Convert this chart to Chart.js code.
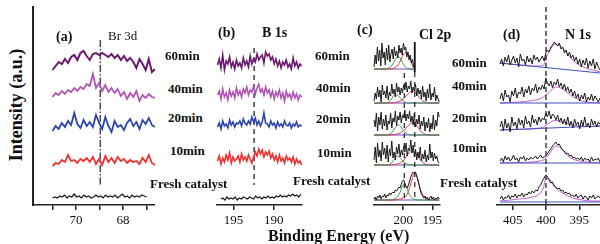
<!DOCTYPE html>
<html>
<head>
<meta charset="utf-8">
<script src="https://cdn.jsdelivr.net/npm/chart.js@4.4.1/dist/chart.umd.min.js"></script>
<style>
body{margin:0;background:#fff;width:600px;height:244px;overflow:hidden;position:relative;font-family:"Liberation Serif",serif;color:#111}
.pn{position:absolute;top:0}
.t{position:absolute;white-space:nowrap;font-weight:bold;font-size:13px;line-height:1;transform:translateY(-50%)}
</style>
</head>
<body>
<div class="pn" style="left:31px"><canvas id="pa" width="124" height="244"></canvas></div>
<div class="pn" style="left:215px"><canvas id="pb" width="102" height="244"></canvas></div>
<div class="pn" style="left:372px"><canvas id="pc" width="83" height="244"></canvas></div>
<div class="pn" style="left:495px"><canvas id="pd" width="120" height="244"></canvas></div>

<div class="t" style="left:16px;top:105px;font-size:18px;transform:translate(-50%,-50%) rotate(-90deg)">Intensity (a.u.)</div>
<div class="t" style="left:268px;top:236px;font-size:16px">Binding Energy (eV)</div>

<div class="t" style="left:56px;top:37px;font-size:14px">(a)</div>
<div class="t" style="left:108px;top:35px;font-weight:normal">Br 3d</div>
<div class="t" style="left:218px;top:33px;font-size:14px">(b)</div>
<div class="t" style="left:262px;top:33px;font-size:14px">B 1s</div>
<div class="t" style="left:357px;top:30px;font-size:14px">(c)</div>
<div class="t" style="left:419px;top:35px;font-size:14px">Cl 2p</div>
<div class="t" style="left:503px;top:35px;font-size:14px">(d)</div>
<div class="t" style="left:565px;top:35px;font-size:14px">N 1s</div>

<div class="t" style="left:165px;top:55px">60min</div>
<div class="t" style="left:168px;top:88px">40min</div>
<div class="t" style="left:168px;top:117px">20min</div>
<div class="t" style="left:170px;top:150px">10min</div>
<div class="t" style="left:150px;top:183px">Fresh catalyst</div>

<div class="t" style="left:315px;top:55px">60min</div>
<div class="t" style="left:316px;top:87px">40min</div>
<div class="t" style="left:316px;top:118px">20min</div>
<div class="t" style="left:317px;top:152px">10min</div>
<div class="t" style="left:293px;top:180px">Fresh catalyst</div>

<div class="t" style="left:452px;top:62px">60min</div>
<div class="t" style="left:452px;top:85px">40min</div>
<div class="t" style="left:452px;top:117px">20min</div>
<div class="t" style="left:452px;top:147px">10min</div>
<div class="t" style="left:440px;top:182px">Fresh catalyst</div>

<script>
// intensities are offset heights above each panel's x axis (a.u.)

// (a) Br 3d
var brRange = [71.0, 66.64];
var brFreshRange = [71.0, 67.0];
var br60 = [135,139,143,141,146,142,148,150,145,152,154,149,145,151,152,150,152,150,148,151,147,150,145,149,144,147,143,137,146,141,135,146,133,136];
var br40 = [108,112,110,114,111,115,113,117,114,118,116,121,119,131,117,122,114,120,113,117,112,116,109,113,106,112,108,114,104,110,107,111,108,107];
var br20 = [74,79,76,82,78,84,80,92,81,77,85,79,83,78,90,82,76,88,79,73,84,78,80,75,82,86,79,83,76,85,81,87,80,78];
var br10 = [39,42,41,45,43,50,44,45,42,46,44,47,43,48,41,46,40,49,43,47,42,48,44,46,42,45,43,44,41,47,43,50,42,40];
var brFresh = [7,8,7,9,8,10,7,9,8,11,8,9,7,10,8,9,7,8,10,8,9,7,10,8,9,8,10,7,9,11,8,9,7,10,8,9,8,10,9,8];
var brMarker = 68.97;

// (b) B 1s
var bRange = [197.0, 186.5];
var bFreshRange = [196.6, 186.6];
var b60 = [140,146,137,150,135,144,141,148,138,143,136,145,139,142,137,147,140,144,138,149,141,146,143,151,145,148,150,142,153,149,151,145,148,141,146,139,144,137,143,140,145,138,141,136,147,139,143,137,141,139];
var b40 = [110,114,106,116,108,112,105,115,109,113,107,117,110,114,108,116,112,118,110,115,113,119,111,117,121,113,116,110,118,112,115,108,114,106,113,109,115,107,112,104,114,108,111,106,113,107,111,105,110,108];
var b20 = [78,82,76,84,79,81,77,85,80,83,78,82,81,84,79,86,82,80,84,81,88,83,87,80,84,79,83,92,82,81,78,84,80,82,77,83,79,81,78,84,80,79,82,77,81,79,83,78,80,79];
var b10 = [44,49,41,47,43,50,45,52,42,48,44,46,49,43,51,45,48,44,50,46,42,48,53,49,56,51,55,48,53,50,54,47,51,45,49,43,50,44,47,42,49,45,47,43,48,41,46,42,44,40];
var bFresh = [6,7,5,8,6,7,6,8,5,7,6,8,7,6,8,7,6,9,7,8,6,8,7,9,7,8,7,9,8,10,8,9,8,10,9,11,9,10,8,11];
var bMarker = 192.44;

// (c) Cl 2p
var clRange = [205.0, 193.8];
var cl60Range = [205.0, 198.2];
var cl60 = [138,150,141,158,144,155,139,162,147,153,140,157,145,160,143,151,156,146,158,149,154,147,160,152,157,150,162,155,158,148,153,145,150,142,146,138];
var cl40 = [104,112,106,118,108,115,103,120,110,114,107,119,105,113,109,121,111,116,108,122,113,118,110,117,112,120,115,123,113,119,116,124,112,118,114,121,109,117,111,115,106,119,108,113,104,116,107,121,105,112,108,118,104,110,106,103];
var cl20 = [85,78,92,74,88,80,93,76,86,79,90,75,84,81,92,77,87,83,94,79,89,85,93,82,90,87,95,84,91,86,94,83,89,80,92,78,86,81,90,76,84,79,88,74,83,77,87,73,82,76,90,75,85,79,93,88];
var cl10 = [45,58,42,62,48,55,44,63,50,57,46,60,43,56,49,64,47,53,45,58,51,61,48,55,50,59,53,62,49,57,54,65,52,60,48,56,45,53,47,58,44,51,46,55,43,50,45,61,47,53,44,52,46,49,43,42];
var clFresh = [6,8,5,9,7,10,6,9,8,11,7,10,9,12,10,12,13,12,15,14,16,18,17,21,24,25,22,18,17,20,24,28,31,33,32,33,29,25,20,15,11,9,7,9,6,8,5,7,9,6,8,5,7,6,8,6];
var cl60FitE = [205,203,202.5,202,201.5,201,200.5,200,199.5,199,198.5,198.2];
var cl60Green = [136,136,137,139,144,148.5,147,141,137.5,136,136,136];
var cl60Red = [136,136,136,136,137,139,144,150,153,149,141,137];
var clFitE = [205,203,202.5,202,201.5,201,200.5,200,199.5,199,198.5,198,197.5,197,196.5,196,195,193.8];
var cl40Green = [102,102,103,106,110,110,107,104,102.5,102,102,102,102,102,102,102,102,102];
var cl40Red = [102,102,102,102,102.5,103,104,106,109,112,114,113.5,110,106,103.5,102.5,102,102];
var cl20Green = [70,70,70.5,72,76,80,79,75,72,70.5,70,70,70,70,70,70,70,70];
var cl20Red = [70,70,70,70,70.5,71,72,74,77,80,82,81.5,78,74,71.5,70.5,70,70];
var cl10Green = [40,40,40.5,42,46,49,47,44,41.5,40.5,40,40,40,40,40,40,40,40];
var cl10Red = [40,40,40,40,40.5,41,42,44,48,52,54,53,49,45,42,40.5,40,40];
var clFreshGreen = [5,5,5,5.5,6,8,13,20,19,11,7,5.5,5,5,5,5,5,5];
var clFreshRed = [5,5,5,5,5,5.5,6,7,9,15,25,32,26,15,9,6,5,5];
var clBase = [136,102,70,40,5];
var clMarkers = [199.8, 198.0];

// (d) N 1s
var nRange = [406.9, 391.9];
var n60 = [141,146,139,148,143,150,140,145,149,142,147,138,151,144,146,140,149,143,147,141,150,145,148,143,146,149,144,152,155,153,158,160,163,161,159,162,156,158,152,155,149,153,147,150,144,148,141,146,138,145,140,147,137,144,139,146,136,143,138,135];
var n40 = [106,112,104,115,108,110,103,114,109,117,107,113,111,118,108,116,112,119,110,117,114,121,112,118,115,120,116,127,122,119,124,117,123,120,126,118,122,116,121,114,118,112,116,109,114,107,111,104,110,106,112,103,108,105,111,104,109,106,103,107];
var n20 = [78,84,74,86,77,82,73,88,79,83,76,87,80,85,77,89,81,84,78,90,82,86,80,88,83,87,85,92,88,94,86,91,89,85,90,83,87,81,86,80,88,79,84,77,86,80,83,76,85,79,88,78,82,77,86,80,84,78,83,81];
var n10 = [44,47,43,49,45,48,44,46,50,45,47,43,48,46,49,44,47,45,48,46,47,49,46,48,50,47,48,49,51,54,56,59,61,63,60,61,57,55,54,51,52,49,50,47,48,46,47,45,48,44,47,45,46,43,48,44,46,45,47,43];
var nFresh = [6,9,5,8,7,10,6,9,8,11,7,10,9,12,8,11,10,13,11,14,12,15,14,18,20,24,27,30,28,25,22,23,19,18,16,17,14,15,12,13,11,12,9,10,8,11,7,9,10,6,9,8,5,9,7,10,6,8,9,7];
var nFitE = [406.9,404,402,401,400.4,400,399.5,399,398.5,398,397.5,397,396.5,396,395,394,393,391.9];
var n60Fit = [142,140,139,139,139.5,147,154,159,161,160,157,153,149,145,140,137,135,133];
var n40Fit = [102,103,104.5,106,108,110,113,116,118,117.5,116,113.5,111,108.5,105,103,102.5,102];
var n20Fit = [75,75.5,76,77,78,80,82,84,84.5,84,83,82,81,80,79,78.5,78.5,79];
var n10Fit = [42,42.5,43,44,45,47,51,56,59,58,55,51,48,46,44,43,42.5,42];
var nFreshFit = [4,6,8,11,17,27,26,21,17,14,12,10,8.5,7,5.5,4.5,4,4];
var nBaseLeft = [142,102,75,42,3];
var nBaseRight = [132,102,79,42,3];
var nMarker = 400.0;

var purple = '#6a1a6e', orchid = '#b155b5', blue = '#2e46ab', red = '#f0302c', black = '#1a1a1a';
var fitGreen = '#3a9a4a', fitRed = '#e03050', basePurple = '#6a4fc0', envPink = '#c55cc8', baseBlue = '#3f4fc8';

function spread(range, vals) {
    return vals.map((v, i) => ({x: range[0] + (range[1] - range[0]) * i / (vals.length - 1), y: v}));
}
function pair(xs, ys) {
    return xs.map((x, i) => ({x: x, y: ys[i]}));
}
function trace(points, color, w) {
    return {data: points, borderColor: color, borderWidth: w, pointRadius: 0, tension: 0, fill: false, clip: false};
}
function fit(points, color) {
    return {data: points, borderColor: color, borderWidth: 1, pointRadius: 0, cubicInterpolationMode: 'monotone', fill: false, clip: false};
}
function vline(x, y0, y1, color, dash, w) {
    return {data: [{x: x, y: y0}, {x: x, y: y1}], borderColor: color, borderWidth: w || 1.3, borderDash: dash, pointRadius: 0, fill: false, clip: false};
}

function panel(id, xMin, xMax, tickVals, tickLabels, datasets, yAxis, padRight) {
    var top = 7;
    new Chart(document.getElementById(id), {
        type: 'line',
        data: {datasets: datasets},
        options: {
            responsive: false,
            animation: false,
            devicePixelRatio: 1,
            layout: {padding: {top: top, left: 0, right: padRight, bottom: 0}},
            plugins: {legend: {display: false}, tooltip: {enabled: false}},
            scales: {
                x: {
                    type: 'linear', reverse: true, min: xMin, max: xMax,
                    afterBuildTicks: s => { s.ticks = tickVals.map(v => ({value: v})); },
                    afterFit: s => { s.height = 39; },
                    ticks: {
                        callback: v => tickLabels.includes(v) ? String(v) : '',
                        font: {family: 'Liberation Serif', size: 13},
                        color: '#111', padding: 3, maxRotation: 0, autoSkip: false
                    },
                    grid: {drawOnChartArea: false, drawTicks: true, tickLength: 5, color: '#222', lineWidth: 1.5},
                    border: {display: true, color: '#222', width: 1.5}
                },
                y: {
                    display: yAxis, min: 0, max: 205 - top,
                    afterFit: s => { s.width = 2; },
                    ticks: {display: false},
                    grid: {display: true, drawOnChartArea: false, drawTicks: false},
                    border: {display: true, color: '#222', width: 2}
                }
            }
        }
    });
}

panel('pa', 66.64, 71.83, [71, 70, 69, 68, 67], [70, 68], [
    trace(spread(brRange, br60), purple, 2),
    trace(spread(brRange, br40), orchid, 1.8),
    trace(spread(brRange, br20), blue, 1.8),
    trace(spread(brRange, br10), red, 1.8),
    trace(spread(brFreshRange, brFresh), black, 1.2),
    vline(brMarker, 165, 20, '#222', [7, 2, 1.5, 2], 1.2)
], true, 0);

panel('pb', 186.46, 197.07, [195, 190], [195, 190], [
    trace(spread(bRange, b60), purple, 1.6),
    trace(spread(bRange, b40), orchid, 1.6),
    trace(spread(bRange, b20), blue, 1.6),
    trace(spread(bRange, b10), red, 1.6),
    trace(spread(bFreshRange, bFresh), black, 1.2),
    vline(bMarker, 157, 20, '#222', [5, 4], 1.3)
], false, 15);

var clSets = [
    vline(clMarkers[0], 132, 5, '#222', [5, 5], 1.2),
    vline(clMarkers[1], 133, 5, '#222', [5, 5], 1.2),
    vline(clMarkers[1], 163, 133, '#111', [], 1.8),
    trace(spread(cl60Range, cl60), black, 1),
    trace(spread(clRange, cl40), black, 1),
    trace(spread(clRange, cl20), black, 1),
    trace(spread(clRange, cl10), black, 1),
    trace(spread(clRange, clFresh), black, 1),
    fit(pair(cl60FitE, cl60Green), fitGreen),
    fit(pair(cl60FitE, cl60Red), fitRed),
    fit(pair(clFitE, cl40Green), fitGreen),
    fit(pair(clFitE, cl40Red), fitRed),
    fit(pair(clFitE, cl20Green), fitGreen),
    fit(pair(clFitE, cl20Red), fitRed),
    fit(pair(clFitE, cl10Green), fitGreen),
    fit(pair(clFitE, cl10Red), fitRed),
    fit(pair(clFitE, clFreshGreen), fitGreen),
    fit(pair(clFitE, clFreshRed), fitRed)
];
clBase.forEach((h, i) => {
    var end = i === 0 ? cl60Range[1] : clRange[1];
    clSets.push(fit([{x: clRange[0], y: h}, {x: end, y: h}], basePurple));
});
panel('pc', 193.67, 205.0, [200, 195], [200, 195], clSets, false, 15);

var nSets = [
    vline(nMarker, 198, 0, '#222', [5, 3], 1.3),
    trace(spread(nRange, n60), black, 1),
    trace(spread(nRange, n40), black, 1),
    trace(spread(nRange, n20), black, 1),
    trace(spread(nRange, n10), black, 1),
    trace(spread(nRange, nFresh), black, 1)
];
nBaseLeft.forEach((h, i) => {
    nSets.push(fit([{x: nRange[0], y: h}, {x: nRange[1], y: nBaseRight[i]}], baseBlue));
});
[n60Fit, n40Fit, n20Fit, n10Fit, nFreshFit].forEach(f => nSets.push(fit(pair(nFitE, f), envPink)));
panel('pd', 391.9, 407.35, [405, 400, 395], [405, 400, 395], nSets, false, 15);
</script>
</body>
</html>
